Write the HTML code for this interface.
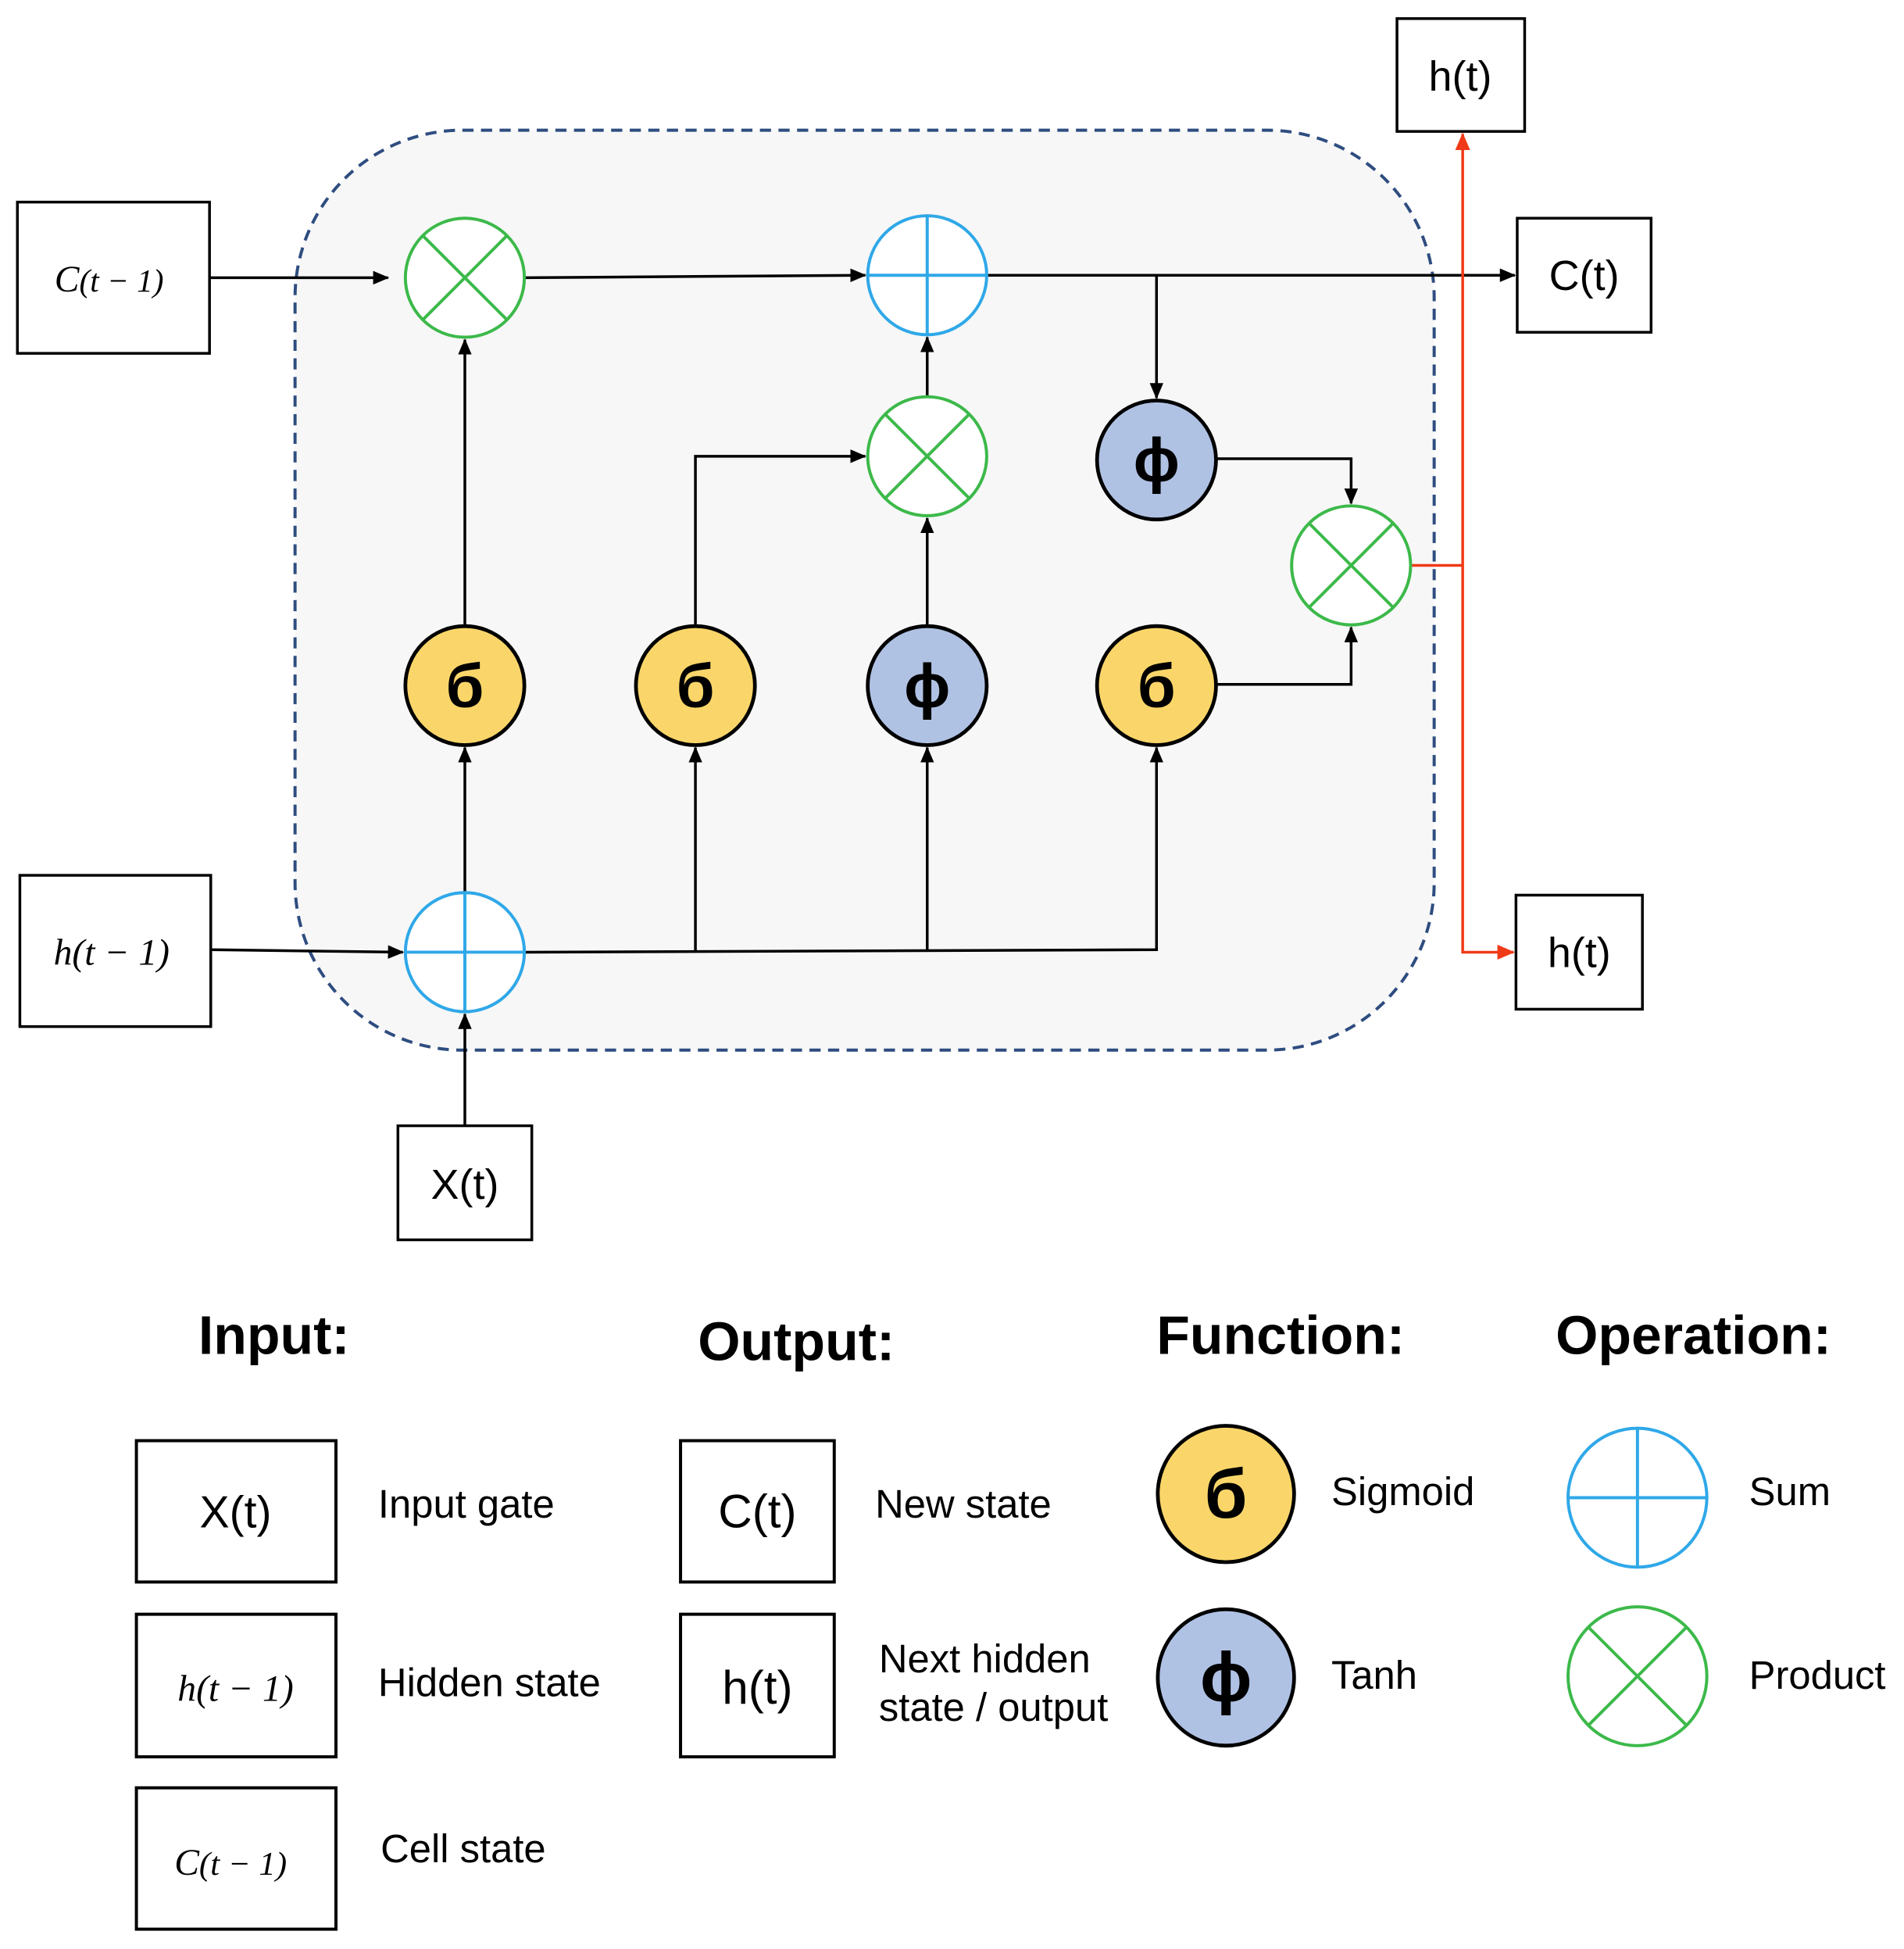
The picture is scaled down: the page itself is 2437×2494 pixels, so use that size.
<!DOCTYPE html>
<html><head><meta charset="utf-8"><style>
html,body{margin:0;padding:0;background:#fff;}
svg{display:block;}
.s{font-family:"Liberation Sans",sans-serif;}
.m{font-family:"Liberation Serif",serif;font-style:italic;}
</style></head><body>
<svg width="2437" height="2494" viewBox="0 0 1536 1572" xmlns="http://www.w3.org/2000/svg">
<defs>
<marker id="a" markerWidth="13" markerHeight="13" refX="12" refY="6.5" orient="auto" markerUnits="userSpaceOnUse"><path d="M0,1 L13,6.5 L0,12 z" fill="#000"/></marker>
<marker id="r" markerWidth="14" markerHeight="14" refX="13" refY="7" orient="auto" markerUnits="userSpaceOnUse"><path d="M0,1 L14,7 L0,13 z" fill="#f03a17"/></marker>
<g id="prod"><circle r="48" fill="#fff" stroke="#3cb94a" stroke-width="2.5"/><path d="M-34,-34 L34,34 M34,-34 L-34,34" stroke="#3cb94a" stroke-width="2.5"/></g>
<g id="sum"><circle r="48" fill="#fff" stroke="#2fa8e8" stroke-width="2.5"/><path d="M-48,0 L48,0 M0,-48 L0,48" stroke="#2fa8e8" stroke-width="2.5"/></g>
<g id="sig"><circle r="48" fill="#fad66a" stroke="#000" stroke-width="3"/><text y="17" text-anchor="middle" font-size="50" font-weight="bold" class="s">б</text></g>
<g id="tanh"><circle r="48" fill="#b0c2e4" stroke="#000" stroke-width="3"/><text y="17" text-anchor="middle" font-size="50" font-weight="bold" class="s">ϕ</text></g>
</defs>
<rect x="238" y="105" width="919" height="742" rx="135" fill="#f7f7f7" stroke="#2e4d80" stroke-width="2.5" stroke-dasharray="9,6"/>
<g fill="none" stroke="#000" stroke-width="2.2" class="s">
<rect x="14" y="163" width="155" height="122"/>
<rect x="16" y="706" width="154" height="122"/>
<rect x="321" y="908" width="108" height="92"/>
<rect x="1127" y="15" width="103" height="91"/>
<rect x="1224" y="176" width="108" height="92"/>
<rect x="1223" y="722" width="102" height="92"/>
</g>
<g stroke="#000" stroke-width="2.2" fill="none">
<path d="M169,224 L313,224" marker-end="url(#a)"/>
<path d="M423,224 L698,222" marker-end="url(#a)"/>
<path d="M796,222 L1222,222" marker-end="url(#a)"/>
<path d="M933,222 L933,321" marker-end="url(#a)"/>
<path d="M981,370 L1090,370 L1090,406" marker-end="url(#a)"/>
<path d="M981,552 L1090,552 L1090,506" marker-end="url(#a)"/>
<path d="M170,766 L325,768" marker-end="url(#a)"/>
<path d="M375,908 L375,818" marker-end="url(#a)"/>
<path d="M423,768 L933,766 L933,603" marker-end="url(#a)"/>
<path d="M561,768 L561,603" marker-end="url(#a)"/>
<path d="M748,767 L748,603" marker-end="url(#a)"/>
<path d="M375,720 L375,603" marker-end="url(#a)"/>
<path d="M375,505 L375,274" marker-end="url(#a)"/>
<path d="M561,505 L561,368 L698,368" marker-end="url(#a)"/>
<path d="M748,505 L748,418" marker-end="url(#a)"/>
<path d="M748,320 L748,272" marker-end="url(#a)"/>
</g>
<g stroke="#f03a17" stroke-width="2.2" fill="none">
<path d="M1138,456 L1180,456"/>
<path d="M1180,456 L1180,108" marker-end="url(#r)"/>
<path d="M1180,456 L1180,768 L1221,768" marker-end="url(#r)"/>
</g>
<use href="#prod" x="375" y="224"/>
<use href="#sum" x="748" y="222"/>
<use href="#prod" x="748" y="368"/>
<use href="#tanh" x="933" y="371"/>
<use href="#prod" x="1090" y="456"/>
<use href="#sig" x="375" y="553"/>
<use href="#sig" x="561" y="553"/>
<use href="#tanh" x="748" y="553"/>
<use href="#sig" x="933" y="553"/>
<use href="#sum" x="375" y="768"/>
<g font-size="30" text-anchor="middle">
<text x="88" y="235" class="m">C<tspan font-size="26">(t − 1)</tspan></text>
<text x="90" y="778" class="m">h(t − 1)</text>
<text x="375" y="967" class="s" font-size="34">X(t)</text>
<text x="1178" y="73" class="s" font-size="34">h(t)</text>
<text x="1278" y="234" class="s" font-size="34">C(t)</text>
<text x="1274" y="780" class="s" font-size="34">h(t)</text>
</g>
<g class="s" font-weight="bold" font-size="44">
<text x="160" y="1092">Input:</text>
<text x="563" y="1097">Output:</text>
<text x="933" y="1092">Function:</text>
<text x="1255" y="1092">Operation:</text>
</g>
<g fill="none" stroke="#000" stroke-width="2.5">
<rect x="110" y="1162" width="161" height="114"/>
<rect x="110" y="1302" width="161" height="115"/>
<rect x="110" y="1442" width="161" height="114"/>
<rect x="549" y="1162" width="124" height="114"/>
<rect x="549" y="1302" width="124" height="115"/>
</g>
<g text-anchor="middle">
<text x="190" y="1232" class="s" font-size="36">X(t)</text>
<text x="190" y="1372" class="m" font-size="30">h(t − 1)</text>
<text x="186" y="1512" class="m" font-size="30">C<tspan font-size="27">(t − 1)</tspan></text>
<text x="611" y="1232" class="s" font-size="38">C(t)</text>
<text x="611" y="1374" class="s" font-size="38">h(t)</text>
</g>
<g class="s" font-size="32">
<text x="305" y="1224">Input gate</text>
<text x="305" y="1368">Hidden state</text>
<text x="307" y="1502">Cell state</text>
<text x="706" y="1224">New state</text>
<text x="709" y="1349">Next hidden</text>
<text x="709" y="1388">state / output</text>
<text x="1074" y="1214">Sigmoid</text>
<text x="1074" y="1362">Tanh</text>
<text x="1411" y="1214">Sum</text>
<text x="1411" y="1362">Product</text>
</g>
<g transform="translate(989,1205)"><circle r="55" fill="#fad66a" stroke="#000" stroke-width="3"/><text y="19" text-anchor="middle" font-size="56" font-weight="bold" class="s">б</text></g>
<g transform="translate(989,1353)"><circle r="55" fill="#b0c2e4" stroke="#000" stroke-width="3"/><text y="19" text-anchor="middle" font-size="56" font-weight="bold" class="s">ϕ</text></g>
<g transform="translate(1321,1208)"><circle r="56" fill="#fff" stroke="#2fa8e8" stroke-width="2.5"/><path d="M-56,0 L56,0 M0,-56 L0,56" stroke="#2fa8e8" stroke-width="2.5"/></g>
<g transform="translate(1321,1352)"><circle r="56" fill="#fff" stroke="#3cb94a" stroke-width="2.5"/><path d="M-40,-40 L40,40 M40,-40 L-40,40" stroke="#3cb94a" stroke-width="2.5"/></g>
</svg>
</body></html>
